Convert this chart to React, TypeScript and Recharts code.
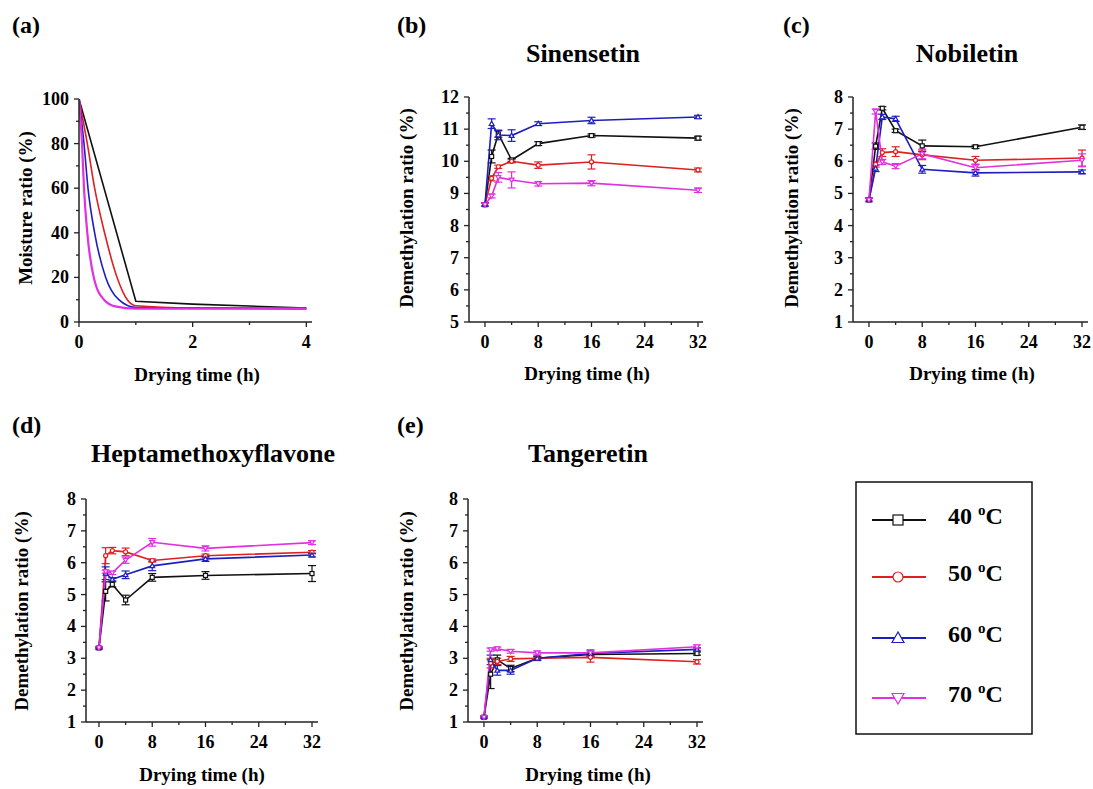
import { LineChart, Line, XAxis, YAxis, ErrorBar } from "recharts";

const FONT = '"Liberation Serif", "Times New Roman", serif';

// sampling times (h) for the demethylation panels
const hours = [0, 1, 2, 4, 8, 16, 32];
const timeTicks = [0, 4, 8, 12, 16, 20, 24, 28, 32];

// (a) moisture ratio
const moistT40 = [0, 1, 2, 4];
const moist40 = [100, 9.3, 8, 6.3];
const moistT50 = [0, 0.146, 0.275, 0.45, 0.67, 0.85, 1, 2, 4];
const moist50 = [100, 80, 60, 40, 20, 10, 7.3, 6.3, 6];
const moistT60 = [0, 0.088, 0.158, 0.275, 0.47, 0.7, 1, 2, 4];
const moist60 = [100, 80, 60, 40, 20, 10, 6.5, 6.2, 6];
const moistT70 = [0, 0.053, 0.088, 0.146, 0.26, 0.44, 0.64, 1, 2, 4];
const moist70 = [100, 80, 60, 40, 20, 10, 7, 6, 6, 6];
const moistTicks = [0, 10, 20, 30, 40, 50, 60, 70, 80, 90, 100];
const moistTimeTicks = [0, 1, 2, 3, 4];

// (b) Sinensetin
const sin40 = [8.65, 10.15, 10.85, 10.04, 10.55, 10.8, 10.72];
const sin50 = [8.65, 9.47, 9.83, 10.0, 9.88, 9.98, 9.73];
const sin60 = [8.65, 11.17, 10.82, 10.8, 11.17, 11.27, 11.38];
const sin70 = [8.65, 8.92, 9.5, 9.42, 9.3, 9.32, 9.1];
const sinErr40 = [0.05, 0.2, 0.1, 0.05, 0.06, 0.05, 0.06];
const sinErr50 = [0.05, 0.08, 0.05, 0.05, 0.1, 0.22, 0.06];
const sinErr60 = [0.05, 0.15, 0.15, 0.18, 0.06, 0.1, 0.05];
const sinErr70 = [0.05, 0.06, 0.15, 0.25, 0.07, 0.08, 0.07];
const sinTicks = [5, 5.5, 6, 6.5, 7, 7.5, 8, 8.5, 9, 9.5, 10, 10.5, 11, 11.5, 12];

// (c) Nobiletin
const nob40 = [4.8, 6.47, 7.65, 6.95, 6.48, 6.45, 7.06];
const nob50 = [4.8, 5.9, 6.27, 6.3, 6.2, 6.03, 6.1];
const nob60 = [4.8, 5.78, 7.38, 7.32, 5.75, 5.64, 5.67];
const nob70 = [4.8, 7.55, 5.98, 5.85, 6.23, 5.8, 6.03];
const nobErr40 = [0.05, 0.1, 0.05, 0.05, 0.18, 0.05, 0.07];
const nobErr50 = [0.05, 0.08, 0.12, 0.15, 0.15, 0.12, 0.25];
const nobErr60 = [0.05, 0.1, 0.08, 0.08, 0.12, 0.1, 0.06];
const nobErr70 = [0.05, 0.08, 0.08, 0.08, 0.15, 0.1, 0.2];

// (d) Heptamethoxyflavone
const hep40 = [3.33, 5.1, 5.32, 4.83, 5.54, 5.6, 5.66];
const hep50 = [3.33, 6.22, 6.38, 6.34, 6.07, 6.22, 6.33];
const hep60 = [3.33, 5.67, 5.48, 5.62, 5.9, 6.12, 6.24];
const hep70 = [3.33, 5.72, 5.68, 6.08, 6.64, 6.45, 6.63];
const hepErr40 = [0.03, 0.3, 0.08, 0.15, 0.12, 0.12, 0.25];
const hepErr50 = [0.03, 0.25, 0.1, 0.12, 0.05, 0.05, 0.05];
const hepErr60 = [0.03, 0.2, 0.05, 0.12, 0.15, 0.08, 0.06];
const hepErr70 = [0.03, 0.05, 0.05, 0.1, 0.12, 0.08, 0.06];

// (e) Tangeretin
const tan40 = [1.15, 2.5, 2.95, 2.68, 3.0, 3.12, 3.15];
const tan50 = [1.15, 2.85, 2.9, 2.98, 3.0, 3.03, 2.89];
const tan60 = [1.15, 2.95, 2.62, 2.62, 3.0, 3.15, 3.28];
const tan70 = [1.15, 3.27, 3.3, 3.22, 3.17, 3.17, 3.36];
const tanErr40 = [0.03, 0.45, 0.15, 0.1, 0.05, 0.05, 0.05];
const tanErr50 = [0.03, 0.15, 0.1, 0.08, 0.05, 0.15, 0.07];
const tanErr60 = [0.03, 0.15, 0.15, 0.12, 0.07, 0.08, 0.05];
const tanErr70 = [0.03, 0.05, 0.05, 0.06, 0.06, 0.1, 0.06];
const ratioTicks = [1, 1.5, 2, 2.5, 3, 3.5, 4, 4.5, 5, 5.5, 6, 6.5, 7, 7.5, 8];

const temps = ["40", "50", "60", "70"];
const colors = ["#111111", "#dd2020", "#1e1ec0", "#e030e0"];
const markers = ["square", "circle", "up", "down"];

const toRows = (v: number[][], e: number[][]) =>
  hours.map((t, i) => ({
    t,
    v40: v[0][i], v50: v[1][i], v60: v[2][i], v70: v[3][i],
    e40: e[0][i], e50: e[1][i], e60: e[2][i], e70: e[3][i],
  }));

const pairs = (ts: number[], vs: number[]) => ts.map((t, i) => ({ t, v: vs[i] }));

const near = (v: number, step: number) => Math.abs(v / step - Math.round(v / step)) < 1e-6;

const Marker = ({ kind, cx, cy, color, s }: any) => {
  const common = { fill: "#fff", stroke: color, strokeWidth: 1.2 };
  if (kind === "square") return <rect x={cx - s / 2} y={cy - s / 2} width={s} height={s} {...common} />;
  if (kind === "circle") return <circle cx={cx} cy={cy} r={s / 2} {...common} />;
  const d = kind === "up" ? 1 : -1;
  const pts = `${cx},${cy - d * s * 0.6} ${cx - s * 0.6},${cy + d * s * 0.45} ${cx + s * 0.6},${cy + d * s * 0.45}`;
  return <polygon points={pts} {...common} />;
};

const yTick = (major: number) => (p: any) => {
  const { x, y, payload } = p;
  const isMajor = near(payload.value, major);
  return (
    <g>
      <line x1={x - (isMajor ? 5 : 3)} x2={x} y1={y} y2={y} stroke="#222" strokeWidth={1.3} />
      {isMajor && (
        <text x={x - 10} y={y + 6} textAnchor="end" fontFamily={FONT} fontWeight="bold" fontSize={18} fill="#000">
          {payload.value}
        </text>
      )}
    </g>
  );
};

const xTick = (major: number) => (p: any) => {
  const { x, y, payload } = p;
  const isMajor = near(payload.value, major);
  return (
    <g>
      <line x1={x} x2={x} y1={y} y2={y + (isMajor ? 5 : 3)} stroke="#222" strokeWidth={1.3} />
      {isMajor && (
        <text x={x} y={y + 26} textAnchor="middle" fontFamily={FONT} fontWeight="bold" fontSize={18} fill="#000">
          {payload.value}
        </text>
      )}
    </g>
  );
};

const YW = 40;
const XH = 30;

const Panel = ({ box, plot, xDomain, xTicks, xMajor, yDomain, yTicks, yMajor, data, children }: any) => {
  const [left, top, width, height] = box;
  const [pl, pt, pr, pb] = plot;
  const margin = {
    left: pl - left - YW,
    top: pt - top,
    right: left + width - pr,
    bottom: top + height - pb - XH,
  };
  return (
    <div style={{ position: "absolute", left, top, width, height }}>
      <LineChart width={width} height={height} data={data} margin={margin}>
        <XAxis
          type="number"
          dataKey="t"
          domain={xDomain}
          ticks={xTicks}
          interval={0}
          allowDataOverflow
          height={XH}
          tickSize={0}
          tickMargin={0}
          tickLine={false}
          tick={xTick(xMajor)}
          axisLine={{ stroke: "#222", strokeWidth: 1.5 }}
        />
        <YAxis
          type="number"
          domain={yDomain}
          ticks={yTicks}
          interval={0}
          allowDataOverflow
          width={YW}
          tickSize={0}
          tickMargin={0}
          tickLine={false}
          tick={yTick(yMajor)}
          axisLine={{ stroke: "#222", strokeWidth: 1.5 }}
        />
        {children}
      </LineChart>
    </div>
  );
};

const seriesLines = () =>
  temps.map((k, i) => (
    <Line
      key={k}
      type="linear"
      dataKey={`v${k}`}
      stroke={colors[i]}
      strokeWidth={1.6}
      isAnimationActive={false}
      dot={(p: any) => (
        <Marker key={`m${k}-${p.index}`} kind={markers[i]} cx={p.cx} cy={p.cy} color={colors[i]} s={4} />
      )}
      activeDot={false}
    >
      <ErrorBar dataKey={`e${k}`} direction="y" width={4} stroke={colors[i]} strokeWidth={1.2} />
    </Line>
  ));

const T = (props: any) => (
  <text fontFamily={FONT} fontWeight="bold" fill="#000" {...props} />
);

export default function App() {
  const moistSeries = [
    pairs(moistT40, moist40),
    pairs(moistT50, moist50),
    pairs(moistT60, moist60),
    pairs(moistT70, moist70),
  ];
  const sinRows = toRows([sin40, sin50, sin60, sin70], [sinErr40, sinErr50, sinErr60, sinErr70]);
  const nobRows = toRows([nob40, nob50, nob60, nob70], [nobErr40, nobErr50, nobErr60, nobErr70]);
  const hepRows = toRows([hep40, hep50, hep60, hep70], [hepErr40, hepErr50, hepErr60, hepErr70]);
  const tanRows = toRows([tan40, tan50, tan60, tan70], [tanErr40, tanErr50, tanErr60, tanErr70]);

  const legendY = [520, 577, 638, 698];

  return (
    <div style={{ position: "absolute", left: 0, top: 0, width: 1093, height: 789, background: "#fff", overflow: "hidden" }}>
      <Panel
        box={[0, 0, 370, 400]}
        plot={[79, 99, 312, 322]}
        xDomain={[0, 4.1]}
        xTicks={moistTimeTicks}
        xMajor={2}
        yDomain={[0, 100]}
        yTicks={moistTicks}
        yMajor={20}
      >
        {moistSeries.map((d, i) => (
          <Line
            key={temps[i]}
            data={d}
            dataKey="v"
            type={i === 0 ? "linear" : "monotone"}
            stroke={colors[i]}
            strokeWidth={i === 3 ? 2.2 : 1.6}
            dot={false}
            activeDot={false}
            isAnimationActive={false}
          />
        ))}
      </Panel>

      <Panel box={[370, 0, 360, 400]} plot={[469, 97, 703, 322]} xDomain={[-2.4, 32.75]} xTicks={timeTicks} xMajor={8}
        yDomain={[5, 12]} yTicks={sinTicks} yMajor={1} data={sinRows}>
        {seriesLines()}
      </Panel>

      <Panel box={[730, 0, 363, 400]} plot={[853, 97, 1088, 322]} xDomain={[-2.4, 32.9]} xTicks={timeTicks} xMajor={8}
        yDomain={[1, 8]} yTicks={ratioTicks} yMajor={1} data={nobRows}>
        {seriesLines()}
      </Panel>

      <Panel box={[0, 400, 370, 389]} plot={[86, 499, 318, 722]} xDomain={[-1.95, 32.9]} xTicks={timeTicks} xMajor={8}
        yDomain={[1, 8]} yTicks={ratioTicks} yMajor={1} data={hepRows}>
        {seriesLines()}
      </Panel>

      <Panel box={[370, 400, 360, 389]} plot={[468, 499, 703, 722]} xDomain={[-2.4, 32.9]} xTicks={timeTicks} xMajor={8}
        yDomain={[1, 8]} yTicks={ratioTicks} yMajor={1} data={tanRows}>
        {seriesLines()}
      </Panel>

      <svg width={1093} height={789} style={{ position: "absolute", left: 0, top: 0, pointerEvents: "none" }}>
        <T x={12} y={33} fontSize={24}>(a)</T>
        <T x={397} y={33} fontSize={24}>(b)</T>
        <T x={783} y={33} fontSize={24}>(c)</T>
        <T x={12} y={433} fontSize={24}>(d)</T>
        <T x={397} y={433} fontSize={24}>(e)</T>

        <T x={583} y={62} fontSize={26} textAnchor="middle">Sinensetin</T>
        <T x={967} y={62} fontSize={26} textAnchor="middle">Nobiletin</T>
        <T x={213} y={462} fontSize={26} textAnchor="middle">Heptamethoxyflavone</T>
        <T x={588} y={462} fontSize={26} textAnchor="middle">Tangeretin</T>

        <T x={197} y={381} fontSize={19} textAnchor="middle">Drying time (h)</T>
        <T x={587} y={380} fontSize={19} textAnchor="middle">Drying time (h)</T>
        <T x={972} y={380} fontSize={19} textAnchor="middle">Drying time (h)</T>
        <T x={202} y={781} fontSize={19} textAnchor="middle">Drying time (h)</T>
        <T x={588} y={781} fontSize={19} textAnchor="middle">Drying time (h)</T>

        <T x={0} y={0} fontSize={19} textAnchor="middle" transform="translate(32,208) rotate(-90)">Moisture ratio (%)</T>
        <T x={0} y={0} fontSize={19} textAnchor="middle" transform="translate(413,208) rotate(-90)">Demethylation ratio (%)</T>
        <T x={0} y={0} fontSize={19} textAnchor="middle" transform="translate(798,208) rotate(-90)">Demethylation ratio (%)</T>
        <T x={0} y={0} fontSize={19} textAnchor="middle" transform="translate(28,611) rotate(-90)">Demethylation ratio (%)</T>
        <T x={0} y={0} fontSize={19} textAnchor="middle" transform="translate(413,611) rotate(-90)">Demethylation ratio (%)</T>

        <rect x={856} y={482} width={176} height={252} fill="none" stroke="#111" strokeWidth={1.5} />
        {temps.map((k, i) => (
          <g key={k}>
            <line x1={872} x2={926} y1={legendY[i]} y2={legendY[i]} stroke={colors[i]} strokeWidth={2} />
            <Marker kind={markers[i]} cx={898} cy={legendY[i]} color={colors[i]} s={10} />
            <T x={948} y={legendY[i] + 4} fontSize={24}>
              {k}{" "}
              <tspan fontSize={15} dy={-9}>o</tspan>
              <tspan dy={9}>C</tspan>
            </T>
          </g>
        ))}
      </svg>
    </div>
  );
}
